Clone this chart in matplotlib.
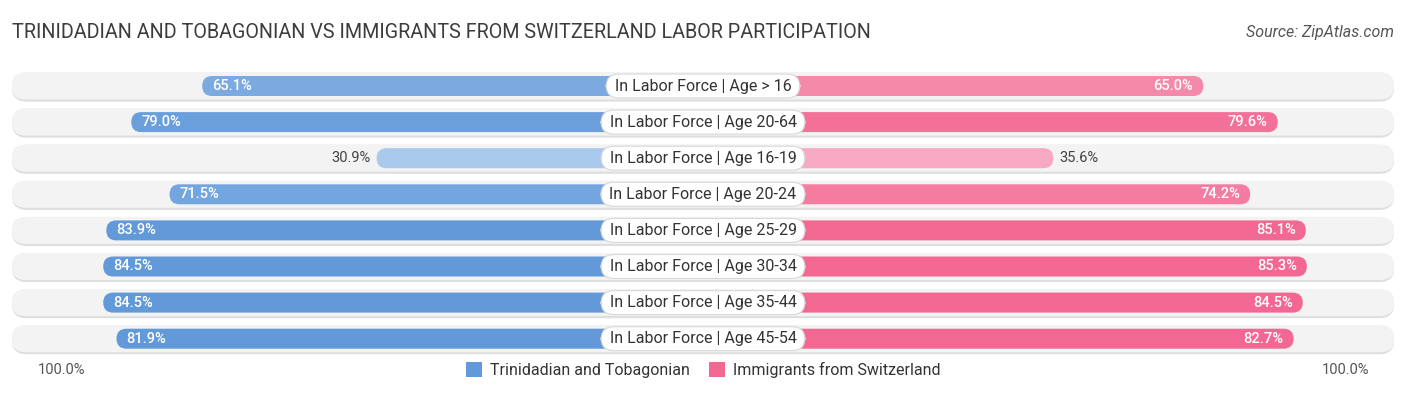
import matplotlib
matplotlib.use("Agg")
import matplotlib.pyplot as plt
from matplotlib.patches import FancyBboxPatch, Patch

plt.rcParams['font.family'] = ['Roboto', 'DejaVu Sans']

# data
categories = ["In Labor Force | Age > 16", "In Labor Force | Age 20-64",
              "In Labor Force | Age 16-19", "In Labor Force | Age 20-24",
              "In Labor Force | Age 25-29", "In Labor Force | Age 30-34",
              "In Labor Force | Age 35-44", "In Labor Force | Age 45-54"]
trinidad = [65.1, 79.0, 30.9, 71.5, 83.9, 84.5, 84.5, 81.9]
swiss = [65.0, 79.6, 35.6, 74.2, 85.1, 85.3, 84.5, 82.7]
blue_cols = ["#7aaadf", "#6a9fdc", "#a9c9ec", "#73a6de", "#6299d9", "#6299d9", "#6299d9", "#6299d9"]
pink_cols = ["#f589aa", "#f37099", "#f7a9c3", "#f47ca1", "#f26893", "#f26893", "#f26893", "#f26893"]
title = "TRINIDADIAN AND TOBAGONIAN VS IMMIGRANTS FROM SWITZERLAND LABOR PARTICIPATION"
source = "Source: ZipAtlas.com"

W, H = 1406, 395
fig = plt.figure(figsize=(W / 100, H / 100), dpi=100)
ax = fig.add_axes([0, 0, 1, 1])

# scale: 1 unit = 5.1 px horizontally, 1 row = 36.1 px vertically
pxu = 5.1
rowpx = 36.1
cx = 703
ax.set_xlim(-cx / pxu, (W - cx) / pxu)
ax.set_ylim((H - 86) / rowpx, -86 / rowpx)
ax.axis('off')
asp = pxu / rowpx

OFF = 33.1  # half width of the label zone, in units

def pill(x0, x1, y, h_px, fc, ec='none', lw=0, z=1):
    h = h_px / rowpx
    r = h_px / 2 / pxu
    p = FancyBboxPatch((x0 + r, y - h / 2), (x1 - x0) - 2 * r, h,
                       boxstyle=f"round,pad={r},rounding_size={r}",
                       mutation_aspect=asp, fc=fc, ec=ec, lw=lw, zorder=z)
    # pad grows the box vertically too, shrink the height to compensate
    p.set_y(y - h / 2 + r * asp)
    p.set_height(h - 2 * r * asp)
    ax.add_patch(p)

full = OFF + 100 + 2.4
for i, cat in enumerate(categories):
    # background track
    pill(-full, full, i + 0.03, 29, '#dedede', z=1)
    pill(-full, full, i, 27, '#f3f3f3', z=1.5)
    lv = trinidad[i]
    rv = swiss[i]
    pill(-OFF - lv, 0, i, 20, blue_cols[i], z=2)
    pill(0, OFF + rv, i, 20, pink_cols[i], z=2)
    if lv > 50:
        ax.text(-OFF - lv + 2.0, i, f"{lv:.1f}%", ha='left', va='center',
                color='white', fontsize=10.5, fontweight='medium', zorder=5)
    else:
        ax.text(-OFF - lv - 1.2, i, f"{lv:.1f}%", ha='right', va='center',
                color='#444444', fontsize=10.5, zorder=5)
    if rv > 50:
        ax.text(OFF + rv - 2.0, i, f"{rv:.1f}%", ha='right', va='center',
                color='white', fontsize=10.5, fontweight='medium', zorder=5)
    else:
        ax.text(OFF + rv + 1.2, i, f"{rv:.1f}%", ha='left', va='center',
                color='#444444', fontsize=10.5, zorder=5)
    ax.text(0, i, " " + cat + " ", ha='center', va='center', fontsize=11.5, color='#333333',
            zorder=6, bbox=dict(boxstyle='round,pad=0.28,rounding_size=0.8',
                                fc='white', ec='#d8d8d8', lw=0.8))

fig.text(12 / W, 1 - 33 / H, title, ha='left', va='center', fontsize=14.2,
         color='#3c3c3c')
fig.text(1394 / W, 1 - 33 / H, source, ha='right', va='center', fontsize=11.5,
         color='#555555', style='italic')

fig.text(38 / W, 1 - 370 / H, "100.0%", ha='left', va='center', fontsize=10.5, color='#555555')
fig.text(1369 / W, 1 - 370 / H, "100.0%", ha='right', va='center', fontsize=10.5, color='#555555')

handles = [Patch(fc=blue_cols[-1], ec='none', label="Trinidadian and Tobagonian"),
           Patch(fc=pink_cols[-1], ec='none', label="Immigrants from Switzerland")]
fig.legend(handles=handles, loc='center', bbox_to_anchor=(0.5, 1 - 370 / H), ncol=2,
           frameon=False, fontsize=11.5, handlelength=1.0, handleheight=1.1,
           handletextpad=0.5, columnspacing=1.2, labelcolor='#333333')

fig.savefig("out.png", dpi=100)
